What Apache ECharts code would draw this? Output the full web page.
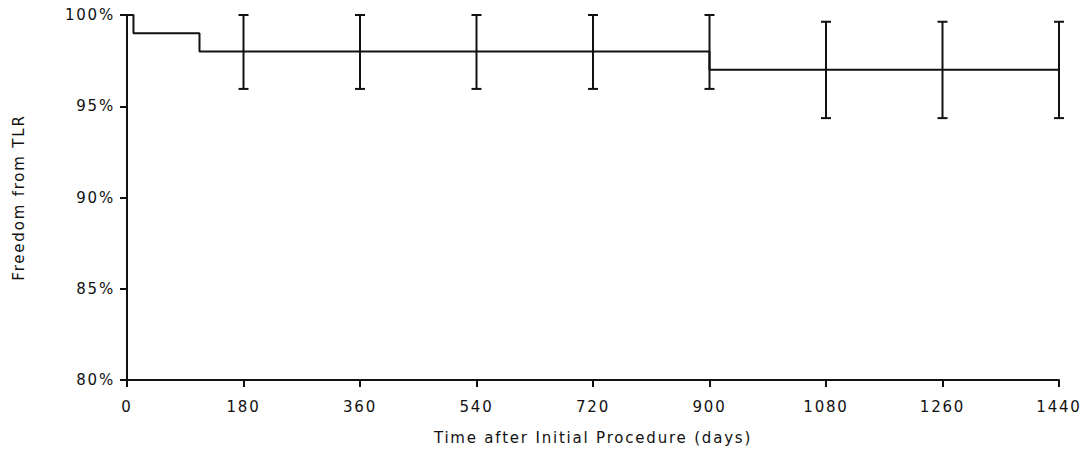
<!DOCTYPE html>
<html>
<head>
<meta charset="utf-8">
<script src="https://cdn.jsdelivr.net/npm/echarts@6/dist/echarts.min.js"></script>
<style>
  html, body { margin: 0; padding: 0; background: #fff; }
  #chart { width: 1086px; height: 456px; }
  #chart text { letter-spacing: 1.8px; }
</style>
</head>
<body>
<div id="chart"></div>
<script>
// Kaplan-Meier step curve
const kmDays = [0, 10, 112, 900, 1440];
const kmFree = [100, 99, 98, 97, 97];

// error bars at the 180 day marks
const barDays = [180, 360, 540, 720, 900, 1080, 1260, 1440];
const barLow = [95.95, 95.95, 95.95, 95.95, 95.95, 94.35, 94.35, 94.35];
const barHigh = [100, 100, 100, 100, 100, 99.63, 99.63, 99.63];

const ink = '#111';
const font = 'DejaVu Sans';

let chart = echarts.init(document.getElementById('chart'), null, { renderer: 'svg' });

let option = {
  backgroundColor: '#fff',
  animation: false,
  textStyle: { fontFamily: font, color: ink },
  grid: { left: 127, right: 27, top: 15, bottom: 76 },
  xAxis: {
    type: 'value',
    min: 0, max: 1440, interval: 180,
    name: 'Time after Initial Procedure (days)',
    nameLocation: 'middle',
    nameGap: 50,
    nameTextStyle: { fontSize: 15, color: ink, fontFamily: font },
    axisLine: { show: true, onZero: false, lineStyle: { color: ink, width: 2 } },
    axisTick: { show: true, length: 7, lineStyle: { color: ink, width: 2 } },
    axisLabel: { fontSize: 15, color: ink, margin: 19, fontFamily: font, formatter: v => String(v) },
    splitLine: { show: false }
  },
  yAxis: {
    type: 'value',
    min: 80, max: 100, interval: 5,
    name: 'Freedom from TLR',
    nameLocation: 'middle',
    nameRotate: 90,
    nameGap: 101,
    nameTextStyle: { fontSize: 15, color: ink, fontFamily: font },
    axisLine: { show: true, lineStyle: { color: ink, width: 2 } },
    axisTick: { show: true, length: 7, lineStyle: { color: ink, width: 2 } },
    axisLabel: { fontSize: 15, color: ink, margin: 12, fontFamily: font, formatter: '{value}%' },
    splitLine: { show: false }
  },
  series: [
    {
      type: 'line',
      step: 'end',
      showSymbol: false,
      clip: false,
      data: kmDays.map((d, i) => [d, kmFree[i]]),
      lineStyle: { color: ink, width: 2 }
    },
    {
      type: 'custom',
      clip: false,
      data: barDays.map((d, i) => [d, barLow[i], barHigh[i]]),
      renderItem: function(params, api) {
        let x = api.value(0);
        let lo = api.coord([x, api.value(1)]);
        let hi = api.coord([x, api.value(2)]);
        let w = 5;
        let st = { stroke: ink, lineWidth: 2 };
        return {
          type: 'group',
          children: [
            { type: 'line', shape: { x1: hi[0], y1: hi[1], x2: lo[0], y2: lo[1] }, style: st },
            { type: 'line', shape: { x1: hi[0] - w, y1: hi[1], x2: hi[0] + w, y2: hi[1] }, style: st },
            { type: 'line', shape: { x1: lo[0] - w, y1: lo[1], x2: lo[0] + w, y2: lo[1] }, style: st }
          ]
        };
      }
    }
  ]
};

chart.setOption(option);
</script>
</body>
</html>
